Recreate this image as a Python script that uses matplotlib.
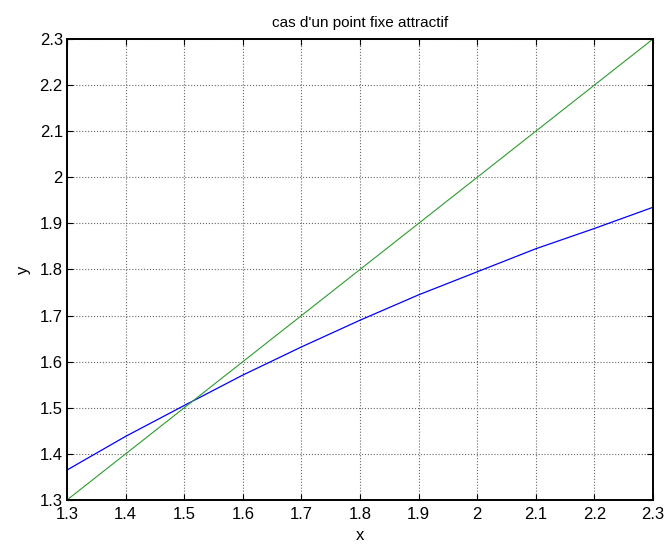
import matplotlib
matplotlib.use("Agg")
from matplotlib import pyplot as plt

x = [1.3, 1.4, 1.5, 1.6, 1.7, 1.8, 1.9, 2.0, 2.1, 2.2, 2.3]
g = [1.365, 1.438, 1.505, 1.571, 1.632, 1.690, 1.745, 1.795, 1.845, 1.889, 1.935]
bisector = [1.3, 2.3]

xticks = [1.3, 1.4, 1.5, 1.6, 1.7, 1.8, 1.9, 2.0, 2.1, 2.2, 2.3]
xticklabels = ["1.3", "1.4", "1.5", "1.6", "1.7", "1.8", "1.9", "2", "2.1", "2.2", "2.3"]
yticks = xticks
yticklabels = xticklabels

plt.rcParams['font.family'] = ['Liberation Sans', 'DejaVu Sans']

fig = plt.figure(figsize=(6.67, 5.48), dpi=100)
ax = fig.add_axes([67 / 667, 1 - 500 / 548, (653 - 67) / 667, (500 - 39) / 548])

ax.plot(x, g, color='#0000ff', linewidth=0.9)
ax.plot(bisector, bisector, color='#2e9a2e', linewidth=0.8)

ax.set_xlim(1.3, 2.3)
ax.set_ylim(1.3, 2.3)
ax.set_xticks(xticks)
ax.set_xticklabels(xticklabels)
ax.set_yticks(yticks)
ax.set_yticklabels(yticklabels)
ax.tick_params(direction='in', top=True, right=True, length=4, width=0.8,
               labelsize=12, colors='black', pad=3)
ax.tick_params(axis='x', pad=5)
ax.grid(True, linestyle=':', color='#666666', linewidth=0.8)
for s in ax.spines.values():
    s.set_linewidth(1.4)
    s.set_color('black')

ax.set_title("cas d'un point fixe attractif", fontsize=11, pad=9)
ax.set_xlabel('x', fontsize=12, labelpad=4)
ax.set_ylabel('y', fontsize=12, labelpad=6)

fig.savefig('out.png', dpi=100)
